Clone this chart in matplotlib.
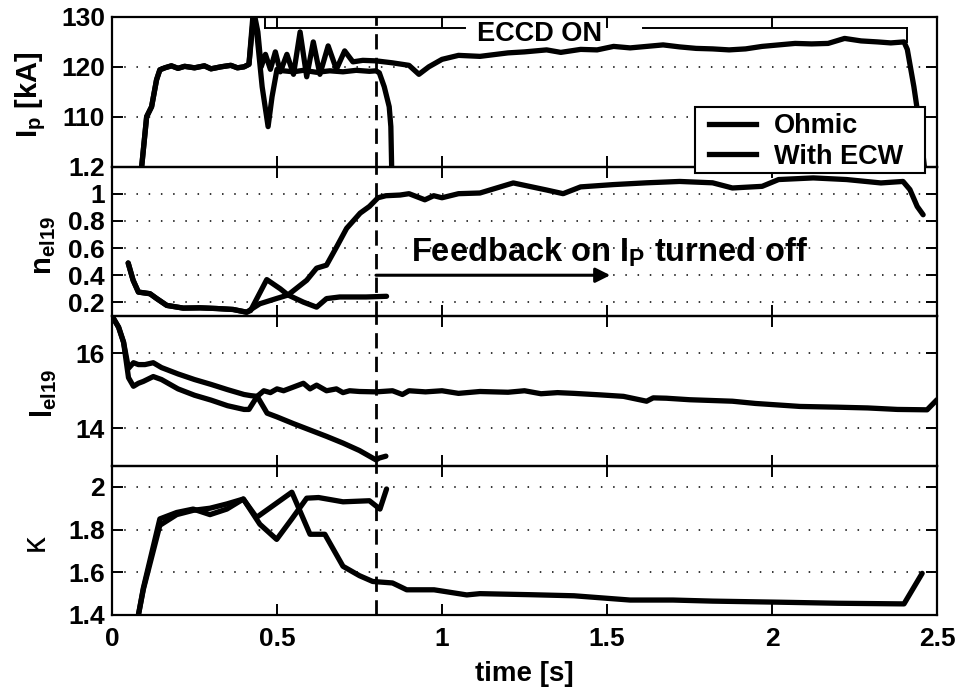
import matplotlib
matplotlib.use("Agg")
import matplotlib.pyplot as plt
from matplotlib.lines import Line2D
from matplotlib.patches import Rectangle

plt.rcParams["font.family"] = ["Liberation Sans", "DejaVu Sans"]
plt.rcParams["font.weight"] = "bold"
plt.rcParams["axes.labelweight"] = "bold"
plt.rcParams["mathtext.default"] = "regular"

# ---------------- plasma current I_p [kA] ----------------
t_ip_ohmic = [0.085, 0.09, 0.105, 0.12, 0.135, 0.145, 0.16, 0.18, 0.20, 0.22, 0.25,
              0.28, 0.30, 0.33, 0.36, 0.38, 0.40, 0.415, 0.428, 0.44, 0.455, 0.473,
              0.485, 0.50, 0.52, 0.55, 0.58, 0.62, 0.66, 0.70, 0.74, 0.78, 0.80,
              0.81, 0.825, 0.84, 0.845, 0.848]
ip_ohmic = [98, 100, 110, 112, 117.4, 119.4, 119.8, 120.2, 119.7, 120.1, 119.8,
            120.2, 119.6, 120.0, 120.3, 119.8, 120.0, 120.5, 131, 126, 116, 108,
            114, 119.5, 119.2, 119.0, 119.3, 118.9, 119.2, 119.0, 119.3, 119.1, 119.2,
            118.8, 116, 112, 108, 98]

t_ip_ecw = [0.085, 0.09, 0.105, 0.12, 0.135, 0.145, 0.16, 0.18, 0.20, 0.22, 0.25,
            0.28, 0.30, 0.33, 0.36, 0.38, 0.40, 0.415, 0.43, 0.442, 0.452, 0.465,
            0.48, 0.495, 0.51, 0.53, 0.55, 0.57, 0.59, 0.61, 0.63, 0.655, 0.68,
            0.705, 0.73, 0.76, 0.80, 0.85, 0.90, 0.93, 0.96, 1.00, 1.05, 1.115,
            1.20, 1.25, 1.317, 1.36, 1.42, 1.47, 1.52, 1.57, 1.62, 1.67, 1.72,
            1.77, 1.82, 1.87, 1.92, 1.97, 2.02, 2.07, 2.12, 2.17, 2.22, 2.27,
            2.32, 2.36, 2.40, 2.41, 2.43, 2.45, 2.465]
ip_ecw = [98, 100, 110, 112, 117.4, 119.4, 119.8, 120.2, 119.7, 120.1, 119.8,
          120.2, 119.6, 120.0, 120.3, 119.8, 120.0, 120.5, 131, 127, 120, 122.5,
          119.5, 123, 119, 122.5, 118.5, 127, 118, 125, 118.5, 124.2, 119.5,
          123.2, 121, 121.3, 121.2, 120.8, 120.3, 118.5, 120, 121.5, 122.3, 122.1,
          122.8, 123.0, 123.4, 122.9, 123.5, 123.4, 124.1, 123.8, 124.1, 124.4, 124.0,
          123.7, 123.6, 123.4, 123.6, 124.1, 124.4, 124.7, 124.6, 124.7, 125.7, 125.2,
          125.0, 124.8, 125.0, 123.5, 116, 107, 98]

# ---------------- line-averaged density n_el19 ----------------
t_ne_ohmic = [0.049, 0.064, 0.08, 0.115, 0.135, 0.166, 0.216, 0.267, 0.317, 0.367,
              0.408, 0.42, 0.469, 0.51, 0.533, 0.58, 0.62, 0.65, 0.69, 0.77, 0.832]
ne_ohmic = [0.49, 0.363, 0.276, 0.264, 0.229, 0.178, 0.158, 0.16, 0.155, 0.148,
            0.128, 0.14, 0.368, 0.30, 0.255, 0.202, 0.165, 0.228, 0.24, 0.24, 0.245]

t_ne_ecw = [0.049, 0.064, 0.08, 0.115, 0.135, 0.166, 0.216, 0.267, 0.317, 0.367,
            0.408, 0.448, 0.499, 0.533, 0.59, 0.62, 0.65, 0.681, 0.711, 0.752,
            0.78, 0.806, 0.83, 0.873, 0.90, 0.948, 0.975, 1.0, 1.05, 1.115, 1.216,
            1.317, 1.367, 1.42, 1.52, 1.62, 1.72, 1.82, 1.88, 1.97, 2.02, 2.125,
            2.226, 2.33, 2.397, 2.418, 2.44, 2.458]
ne_ecw = [0.49, 0.363, 0.276, 0.264, 0.229, 0.178, 0.158, 0.16, 0.155, 0.148,
          0.128, 0.19, 0.229, 0.254, 0.363, 0.452, 0.474, 0.61, 0.745, 0.857,
          0.906, 0.97, 0.985, 0.99, 1.0, 0.955, 0.985, 0.97, 1.0, 1.005, 1.079,
          1.027, 1.0, 1.05, 1.067, 1.08, 1.09, 1.08, 1.042, 1.054, 1.104, 1.116,
          1.104, 1.079, 1.09, 1.03, 0.906, 0.845]

# ---------------- l_el19 ----------------
t_l_ohmic = [0.0, 0.02, 0.035, 0.05, 0.065, 0.08, 0.10, 0.125, 0.15, 0.20, 0.25,
             0.30, 0.35, 0.40, 0.42, 0.44, 0.47, 0.50, 0.55, 0.60, 0.65, 0.70,
             0.75, 0.78, 0.80, 0.81, 0.83]
l_ohmic = [17.0, 16.7, 16.3, 15.6, 15.75, 15.7, 15.7, 15.75, 15.62, 15.45, 15.3,
           15.17, 15.03, 14.9, 14.87, 14.85, 14.4, 14.3, 14.12, 13.95, 13.78, 13.6,
           13.4, 13.25, 13.15, 13.2, 13.25]

t_l_ecw = [0.0, 0.02, 0.035, 0.05, 0.065, 0.08, 0.095, 0.125, 0.15, 0.20, 0.25,
           0.30, 0.35, 0.40, 0.415, 0.44, 0.46, 0.48, 0.50, 0.52, 0.55, 0.58, 0.60,
           0.62, 0.65, 0.68, 0.70, 0.72, 0.75, 0.80, 0.85, 0.88, 0.90, 0.95, 1.0,
           1.05, 1.115, 1.2, 1.25, 1.3, 1.35, 1.4, 1.479, 1.55, 1.62, 1.64, 1.68,
           1.75, 1.88, 1.95, 2.085, 2.2, 2.29, 2.38, 2.47, 2.5]
l_ecw = [17.0, 16.7, 16.3, 15.35, 15.12, 15.2, 15.25, 15.38, 15.3, 15.05, 14.88,
         14.75, 14.6, 14.5, 14.5, 14.85, 15.0, 14.95, 15.05, 15.0, 15.1, 15.2, 15.05,
         15.15, 15.0, 15.05, 14.95, 15.0, 14.98, 14.97, 15.0, 14.9, 15.0, 14.97, 15.0,
         14.93, 14.98, 14.96, 15.0, 14.92, 14.95, 14.93, 14.89, 14.85, 14.72, 14.81,
         14.8, 14.76, 14.72, 14.66, 14.58, 14.56, 14.54, 14.5, 14.49, 14.76]

# ---------------- elongation kappa ----------------
t_k_ohmic = [0.08, 0.095, 0.145, 0.196, 0.246, 0.297, 0.348, 0.398, 0.448, 0.499,
             0.545, 0.59, 0.626, 0.70, 0.78, 0.812, 0.832]
k_ohmic = [1.4, 1.526, 1.85, 1.88, 1.896, 1.87, 1.896, 1.943, 1.825, 1.754,
           1.85, 1.947, 1.95, 1.93, 1.935, 1.896, 1.99]

t_k_ecw = [0.08, 0.095, 0.145, 0.196, 0.246, 0.297, 0.348, 0.398, 0.438, 0.545,
           0.60, 0.645, 0.70, 0.75, 0.79, 0.85, 0.893, 0.976, 1.075, 1.115, 1.27,
           1.40, 1.57, 1.70, 1.82, 2.02, 2.20, 2.40, 2.455]
k_ecw = [1.4, 1.52, 1.82, 1.87, 1.89, 1.90, 1.92, 1.943, 1.857, 1.975,
         1.778, 1.778, 1.628, 1.584, 1.557, 1.55, 1.518, 1.518, 1.494, 1.50, 1.495,
         1.49, 1.47, 1.47, 1.465, 1.46, 1.455, 1.452, 1.595]

# ---------------- axis settings ----------------
x_ticks = [0, 0.5, 1, 1.5, 2, 2.5]
x_tick_labels = ["0", "0.5", "1", "1.5", "2", "2.5"]
ip_ticks = [110, 120, 130]
ip_tick_labels = ["110", "120", "130"]
ne_ticks = [0.2, 0.4, 0.6, 0.8, 1.0, 1.2]
ne_tick_labels = ["0.2", "0.4", "0.6", "0.8", "1", "1.2"]
l_ticks = [14, 16]
l_tick_labels = ["14", "16"]
k_ticks = [1.4, 1.6, 1.8, 2.0]
k_tick_labels = ["1.4", "1.6", "1.8", "2"]
legend_labels = ["Ohmic", "With ECW"]

t_switch = 0.8          # feedback on I_p turned off
eccd_level = 127.8
eccd_spans = [(0.465, 1.07), (1.61, 2.41)]

W, H = 963, 695
fig = plt.figure(figsize=(W / 100, H / 100), dpi=100)


def px(x, y):
    """Pixel position (from top-left) -> figure fraction."""
    return x / W, 1 - y / H


left_px, right_px, top_px, bot_px = 112, 937, 17, 615
panel_h = (bot_px - top_px) / 4
axes = []
for i in range(4):
    y_top = top_px + i * panel_h
    ax = fig.add_axes([left_px / W, 1 - (y_top + panel_h) / H,
                       (right_px - left_px) / W, panel_h / H])
    ax.set_facecolor("none")
    axes.append(ax)
ax1, ax2, ax3, ax4 = axes

LW = 3.8
line_kw = dict(color="black", lw=LW, solid_joinstyle="round", solid_capstyle="round")

ax1.plot(t_ip_ohmic, ip_ohmic, **line_kw)
ax1.plot(t_ip_ecw, ip_ecw, **line_kw)
ax2.plot(t_ne_ohmic, ne_ohmic, **line_kw)
ax2.plot(t_ne_ecw, ne_ecw, **line_kw)
ax3.plot(t_l_ohmic, l_ohmic, **line_kw)
ax3.plot(t_l_ecw, l_ecw, **line_kw)
ax4.plot(t_k_ohmic, k_ohmic, **line_kw)
ax4.plot(t_k_ecw, k_ecw, **line_kw)

ax1.set_ylim(100, 130)
ax2.set_ylim(0.1, 1.2)
ax3.set_ylim(13, 17)
ax4.set_ylim(1.4, 2.1)

for ax, ticks, labels in [(ax1, ip_ticks, ip_tick_labels), (ax2, ne_ticks, ne_tick_labels),
                          (ax3, l_ticks, l_tick_labels), (ax4, k_ticks, k_tick_labels)]:
    ax.set_xlim(0, 2.5)
    ax.set_xticks(x_ticks)
    ax.set_yticks(ticks)
    ax.set_yticklabels(labels)
    ax.tick_params(direction="in", top=True, right=True, length=8, width=1.4,
                   labelsize=19, pad=5)
    ax.tick_params(axis="x", pad=9)
    ax.grid(axis="y", linestyle=(0, (1, 7)), color="black", lw=1.1)
    for sp in ax.spines.values():
        sp.set_linewidth(1.6)
    ax.axvline(t_switch, color="black", lw=2.0, linestyle=(0, (5.5, 3.0)), zorder=1)
    if ax is not ax4:
        ax.set_xticklabels([])
ax4.set_xticklabels(x_tick_labels)
ax4.set_xlabel("time [s]", fontsize=20, fontweight="bold", labelpad=7)

# ECCD on period
for a, b in eccd_spans:
    ax1.plot([a, b], [eccd_level, eccd_level], color="black", lw=1.4)
ax1.plot([eccd_spans[0][0]] * 2, [eccd_level, 129.5], color="black", lw=1.4)
ax1.plot([eccd_spans[1][1]] * 2, [eccd_level, 125.0], color="black", lw=1.4)
ax1.text(1.105, 125.1, "ECCD ON", fontsize=19.5, ha="left", va="baseline")

# feedback annotation
ax2.annotate("", xy=(1.51, 0.40), xytext=(t_switch, 0.40),
             arrowprops=dict(arrowstyle="-|>", lw=2.2, color="black",
                             mutation_scale=22, shrinkA=0, shrinkB=0))
ax2.text(0.905, 0.50, "Feedback on I$_P$ turned off", fontsize=23.5, ha="left",
         va="baseline")

# y labels
fig.text(*px(31, 95), "I$_p$ [kA]", rotation=90, ha="center", va="center", fontsize=21)
fig.text(*px(44, 245), "n$_{el19}$", rotation=90, ha="center", va="center", fontsize=21)
fig.text(*px(44, 393), "l$_{el19}$", rotation=90, ha="center", va="center", fontsize=21)
fig.text(*px(35, 543), "κ", rotation=90, ha="center", va="center", fontsize=24,
         fontweight="normal")

# legend: white framed box spanning the panel boundary, entries on top
x0, y0 = px(695, 173)
x1, y1 = px(925, 107)
fig.patches.append(Rectangle((x0, y0), x1 - x0, y1 - y0, transform=fig.transFigure,
                             facecolor="white", edgecolor="black", lw=1.5, zorder=4))
handles = [Line2D([], [], color="black", lw=LW), Line2D([], [], color="black", lw=LW)]
leg = fig.legend(handles, legend_labels, loc="upper left",
                 bbox_to_anchor=px(709, 113), fontsize=19.5, frameon=False,
                 borderpad=0, labelspacing=0.18, handlelength=1.75,
                 handletextpad=0.65, borderaxespad=0)
leg.set_zorder(6)

fig.savefig("out.png", dpi=100, facecolor="white")
